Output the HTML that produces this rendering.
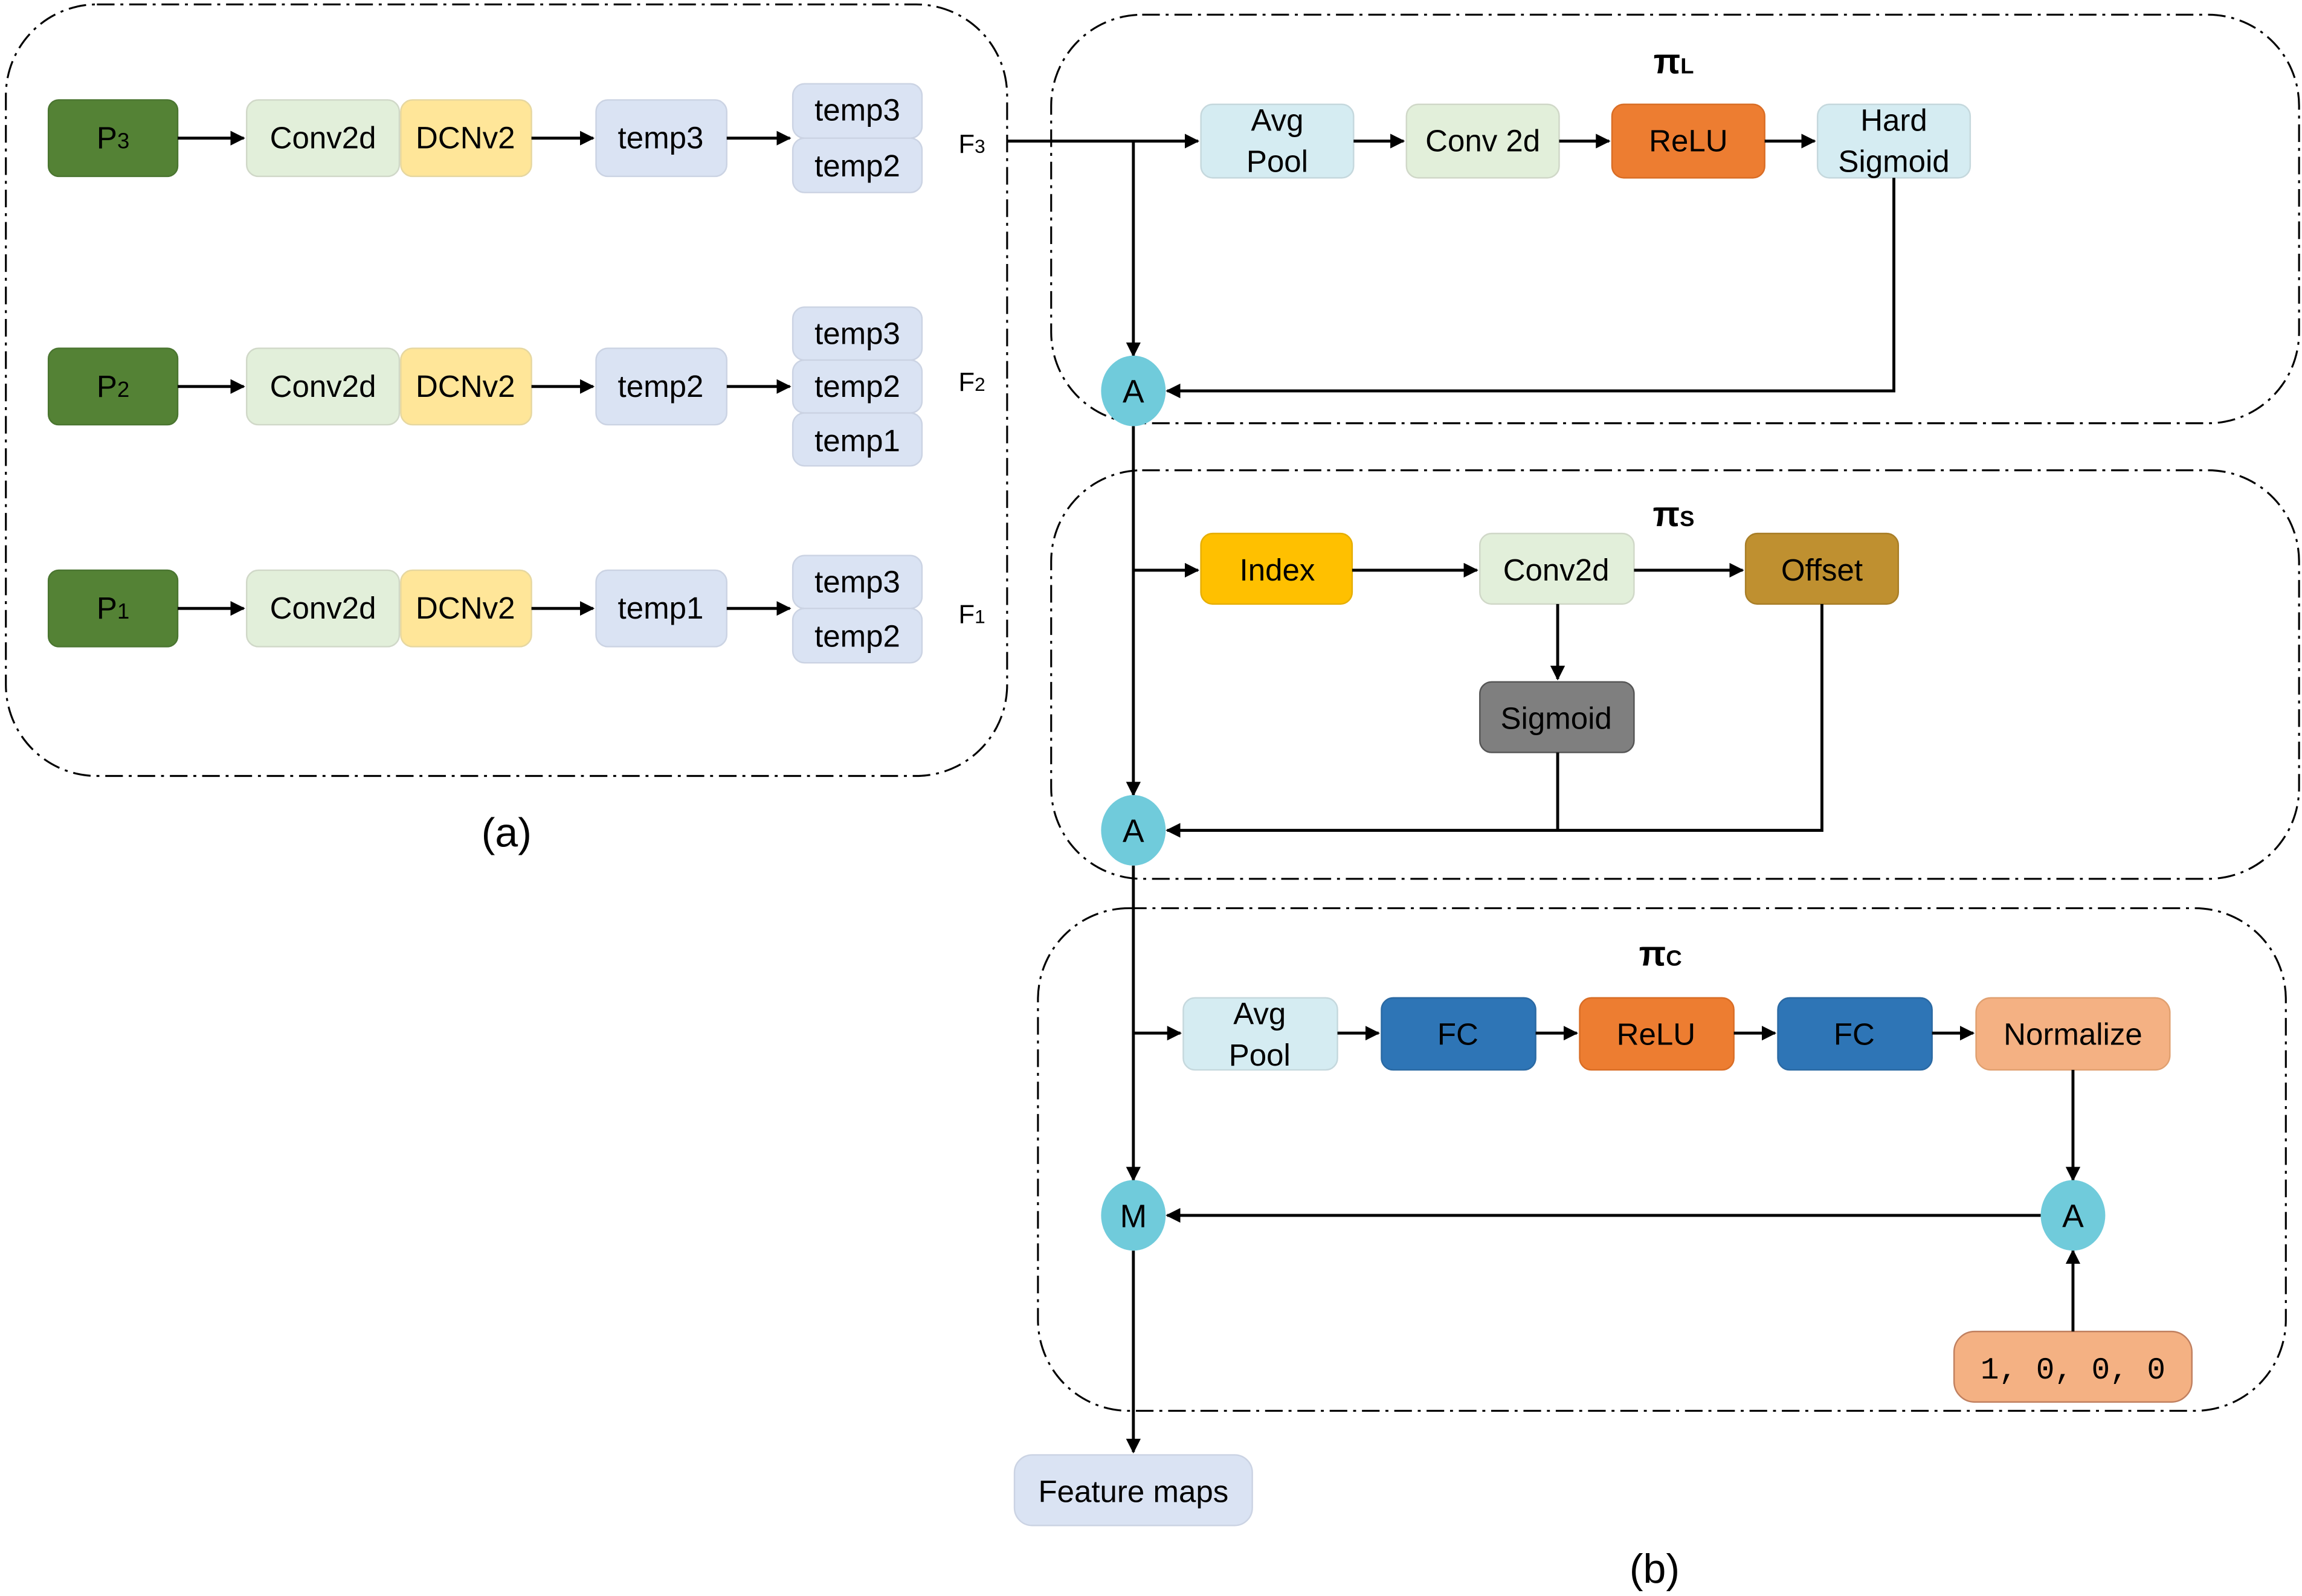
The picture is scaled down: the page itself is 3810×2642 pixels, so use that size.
<!DOCTYPE html>
<html><head><meta charset="utf-8"><style>html,body{margin:0;padding:0;background:#fff}svg{display:block}</style></head><body>
<svg width="3810" height="2642" viewBox="0 0 1568 1086" preserveAspectRatio="none" xmlns="http://www.w3.org/2000/svg" font-family="Liberation Sans, sans-serif">
<defs><marker id="ar" markerWidth="10" markerHeight="10" refX="9" refY="5" orient="auto" markerUnits="userSpaceOnUse"><path d="M0,0 L10,5 L0,10 z" fill="#000"/></marker></defs>
<g fill="none" stroke="#000" stroke-width="1.3" stroke-dasharray="12,4,2,4">
<rect x="4" y="3" width="682" height="525" rx="62"/>
<rect x="716" y="10" width="850" height="278" rx="62"/>
<rect x="716" y="320" width="850" height="278" rx="62"/>
<rect x="707" y="618" width="850" height="342" rx="62"/>
</g>
<g font-size="21" text-anchor="middle" stroke-width="1">
<!-- row 1 -->
<rect x="33" y="68" width="88" height="52" rx="7" fill="#548235" stroke="#4a7530"/><text x="77" y="101">P<tspan font-size="15">3</tspan></text>
<rect x="168" y="68" width="104" height="52" rx="8" fill="#E2EFDA" stroke="#d0d8c8"/><text x="220" y="101">Conv2d</text>
<rect x="273" y="68" width="89" height="52" rx="8" fill="#FFE699" stroke="#e6d7a0"/><text x="317" y="101">DCNv2</text>
<rect x="406" y="68" width="89" height="52" rx="8" fill="#DAE3F3" stroke="#cbd3e3"/><text x="450" y="101">temp3</text>
<rect x="540" y="57" width="88" height="37" rx="8" fill="#DAE3F3" stroke="#cbd3e3"/><text x="584" y="82">temp3</text>
<rect x="540" y="94" width="88" height="37" rx="8" fill="#DAE3F3" stroke="#cbd3e3"/><text x="584" y="120">temp2</text>
<text x="662" y="104" font-size="18">F<tspan font-size="13">3</tspan></text>
<!-- row 2 -->
<rect x="33" y="237" width="88" height="52" rx="7" fill="#548235" stroke="#4a7530"/><text x="77" y="270">P<tspan font-size="15">2</tspan></text>
<rect x="168" y="237" width="104" height="52" rx="8" fill="#E2EFDA" stroke="#d0d8c8"/><text x="220" y="270">Conv2d</text>
<rect x="273" y="237" width="89" height="52" rx="8" fill="#FFE699" stroke="#e6d7a0"/><text x="317" y="270">DCNv2</text>
<rect x="406" y="237" width="89" height="52" rx="8" fill="#DAE3F3" stroke="#cbd3e3"/><text x="450" y="270">temp2</text>
<rect x="540" y="209" width="88" height="36" rx="8" fill="#DAE3F3" stroke="#cbd3e3"/><text x="584" y="234">temp3</text>
<rect x="540" y="245" width="88" height="36" rx="8" fill="#DAE3F3" stroke="#cbd3e3"/><text x="584" y="270">temp2</text>
<rect x="540" y="281" width="88" height="36" rx="8" fill="#DAE3F3" stroke="#cbd3e3"/><text x="584" y="307">temp1</text>
<text x="662" y="266" font-size="18">F<tspan font-size="13">2</tspan></text>
<!-- row 3 -->
<rect x="33" y="388" width="88" height="52" rx="7" fill="#548235" stroke="#4a7530"/><text x="77" y="421">P<tspan font-size="15">1</tspan></text>
<rect x="168" y="388" width="104" height="52" rx="8" fill="#E2EFDA" stroke="#d0d8c8"/><text x="220" y="421">Conv2d</text>
<rect x="273" y="388" width="89" height="52" rx="8" fill="#FFE699" stroke="#e6d7a0"/><text x="317" y="421">DCNv2</text>
<rect x="406" y="388" width="89" height="52" rx="8" fill="#DAE3F3" stroke="#cbd3e3"/><text x="450" y="421">temp1</text>
<rect x="540" y="378" width="88" height="36" rx="8" fill="#DAE3F3" stroke="#cbd3e3"/><text x="584" y="403">temp3</text>
<rect x="540" y="414" width="88" height="37" rx="8" fill="#DAE3F3" stroke="#cbd3e3"/><text x="584" y="440">temp2</text>
<text x="662" y="424" font-size="18">F<tspan font-size="13">1</tspan></text>
<text x="345" y="576" font-size="28">(a)</text>

<!-- pi L -->
<text x="1140" y="50" font-size="24" font-weight="bold">π<tspan font-size="15">L</tspan></text>
<rect x="818" y="71" width="104" height="50" rx="8" fill="#D5ECF2" stroke="#c5d8dd"/><text x="870" y="89">Avg</text><text x="870" y="117">Pool</text>
<rect x="958" y="71" width="104" height="50" rx="8" fill="#E2EFDA" stroke="#d0d8c8"/><text x="1010" y="103">Conv 2d</text>
<rect x="1098" y="71" width="104" height="50" rx="8" fill="#ED7D31" stroke="#d96d25"/><text x="1150" y="103">ReLU</text>
<rect x="1238" y="71" width="104" height="50" rx="8" fill="#D5ECF2" stroke="#c5d8dd"/><text x="1290" y="89">Hard</text><text x="1290" y="117">Sigmoid</text>
<!-- pi S -->
<text x="1140" y="358" font-size="24" font-weight="bold">π<tspan font-size="15">S</tspan></text>
<rect x="818" y="363" width="103" height="48" rx="8" fill="#FFC000" stroke="#e6ae00"/><text x="870" y="395">Index</text>
<rect x="1008" y="363" width="105" height="48" rx="8" fill="#E2EFDA" stroke="#d0d8c8"/><text x="1060" y="395">Conv2d</text>
<rect x="1189" y="363" width="104" height="48" rx="8" fill="#BF9030" stroke="#a87e28"/><text x="1241" y="395">Offset</text>
<rect x="1008" y="464" width="105" height="48" rx="8" fill="#7F7F7F" stroke="#555"/><text x="1060" y="496">Sigmoid</text>
<!-- pi C -->
<text x="1131" y="657" font-size="24" font-weight="bold">π<tspan font-size="15">C</tspan></text>
<rect x="806" y="679" width="105" height="49" rx="8" fill="#D5ECF2" stroke="#c5d8dd"/><text x="858" y="697">Avg</text><text x="858" y="725">Pool</text>
<rect x="941" y="679" width="105" height="49" rx="8" fill="#2E75B6" stroke="#2a69a3"/><text x="993" y="711">FC</text>
<rect x="1076" y="679" width="105" height="49" rx="8" fill="#ED7D31" stroke="#d96d25"/><text x="1128" y="711">ReLU</text>
<rect x="1211" y="679" width="105" height="49" rx="8" fill="#2E75B6" stroke="#2a69a3"/><text x="1263" y="711">FC</text>
<rect x="1346" y="679" width="132" height="49" rx="10" fill="#F4B183" stroke="#e0a070"/><text x="1412" y="711">Normalize</text>
<rect x="1331" y="906" width="162" height="48" rx="14" fill="#F4B183" stroke="#c08060"/><text x="1412" y="938" font-family="Liberation Mono, monospace">1, 0, 0, 0</text>
<rect x="691" y="990" width="162" height="48" rx="12" fill="#DAE3F3" stroke="#cbd3e3"/><text x="772" y="1022">Feature maps</text>
<text x="1127" y="1077" font-size="28">(b)</text>
</g>
<!-- connectors -->
<g stroke="#000" stroke-width="2" fill="none" marker-end="url(#ar)">
<line x1="121" y1="94" x2="166" y2="94"/><line x1="362" y1="94" x2="404" y2="94"/><line x1="495" y1="94" x2="538" y2="94"/>
<line x1="121" y1="263" x2="166" y2="263"/><line x1="362" y1="263" x2="404" y2="263"/><line x1="495" y1="263" x2="538" y2="263"/>
<line x1="121" y1="414" x2="166" y2="414"/><line x1="362" y1="414" x2="404" y2="414"/><line x1="495" y1="414" x2="538" y2="414"/>
<polyline points="686,96 816,96"/>
<line x1="922" y1="96" x2="956" y2="96"/><line x1="1062" y1="96" x2="1096" y2="96"/><line x1="1202" y1="96" x2="1236" y2="96"/>
<line x1="772" y1="96" x2="772" y2="242"/>
<polyline points="1290,121 1290,266 795,266"/>
<line x1="772" y1="290" x2="772" y2="541"/>
<line x1="772" y1="388" x2="816" y2="388"/>
<line x1="921" y1="388" x2="1006" y2="388"/><line x1="1113" y1="388" x2="1187" y2="388"/>
<line x1="1061" y1="411" x2="1061" y2="462"/>
<polyline points="1241,411 1241,565 795,565"/>
<line x1="772" y1="589" x2="772" y2="803"/>
<line x1="772" y1="703" x2="804" y2="703"/>
<line x1="911" y1="703" x2="939" y2="703"/><line x1="1046" y1="703" x2="1074" y2="703"/><line x1="1181" y1="703" x2="1209" y2="703"/><line x1="1316" y1="703" x2="1344" y2="703"/>
<line x1="1412" y1="728" x2="1412" y2="803"/>
<line x1="1412" y1="906" x2="1412" y2="851"/>
<line x1="1390" y1="827" x2="795" y2="827"/>
<line x1="772" y1="851" x2="772" y2="988"/>
</g>
<line x1="1061" y1="512" x2="1061" y2="565" stroke="#000" stroke-width="2"/>
<g fill="#70CBDB" font-size="22" text-anchor="middle">
<ellipse cx="772" cy="266" rx="22" ry="24"/><ellipse cx="772" cy="565" rx="22" ry="24"/><ellipse cx="772" cy="827" rx="22" ry="24"/><ellipse cx="1412" cy="827" rx="22" ry="24"/>
<g fill="#000"><text x="772" y="274">A</text><text x="772" y="573">A</text><text x="772" y="835">M</text><text x="1412" y="835">A</text></g>
</g>
</svg>
</body></html>
